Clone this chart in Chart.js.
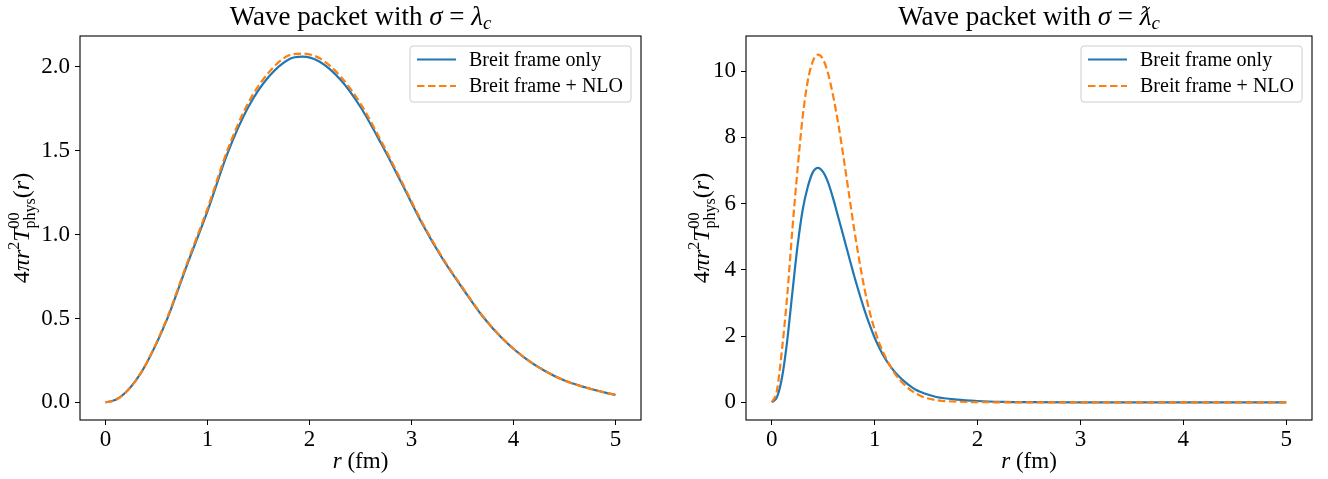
<!DOCTYPE html>
<html>
<head>
<meta charset="utf-8">
<script src="https://cdn.jsdelivr.net/npm/chart.js@4.4.0/dist/chart.umd.min.js"></script>
<style>
    html, body { margin: 0; padding: 0; background: #fff; }
    #wrap { position: relative; width: 1328px; height: 479px; }
    canvas { position: absolute; top: 0; }
</style>
</head>
<body>
<div id="wrap">
    <canvas id="leftChart" width="664" height="479" style="left:0"></canvas>
    <canvas id="rightChart" width="664" height="479" style="left:664px"></canvas>
</div>
<script>
// values
var seriesLabels = ['Breit frame only', 'Breit frame + NLO'];
var xTicks = [0, 1, 2, 3, 4, 5];

// left panel (sigma = lambda_c)
var rLeft = [0, 0.1, 0.2, 0.3, 0.4, 0.6, 0.8, 1, 1.2, 1.4, 1.6, 1.8, 1.93, 2.1, 2.3, 2.5, 2.7, 2.9, 3.1, 3.3, 3.5, 3.7, 3.9, 4.1, 4.3, 4.5, 4.7, 4.9, 5];
var breitLeft = [0, 0.015, 0.06, 0.132, 0.23, 0.49, 0.82, 1.14, 1.49, 1.76, 1.94, 2.045, 2.06, 2.03, 1.925, 1.76, 1.545, 1.31, 1.07, 0.86, 0.68, 0.51, 0.375, 0.27, 0.19, 0.13, 0.09, 0.058, 0.045];
var nloLeft = [0, 0.015, 0.06, 0.133, 0.232, 0.497, 0.83, 1.155, 1.51, 1.785, 1.965, 2.068, 2.078, 2.05, 1.945, 1.78, 1.56, 1.32, 1.078, 0.866, 0.684, 0.513, 0.377, 0.27, 0.19, 0.13, 0.09, 0.058, 0.045];
var yTicksLeft = [0, 0.5, 1, 1.5, 2];

// right panel (sigma = reduced lambda_c)
var rRight = [0, 0.05, 0.1, 0.15, 0.2, 0.25, 0.3, 0.35, 0.4, 0.45, 0.5, 0.55, 0.6, 0.65, 0.7, 0.75, 0.8, 0.85, 0.9, 0.95,
    1, 1.05, 1.1, 1.15, 1.2, 1.25, 1.3, 1.35, 1.4, 1.45, 1.5, 1.6, 1.8, 2, 2.25, 2.5, 3, 3.5, 4, 4.5, 5];
var breitRight = [0, 0.15, 0.75, 1.85, 3.3, 4.7, 5.8, 6.5, 6.95, 7.08, 6.95, 6.62, 6.12, 5.55, 4.98, 4.4, 3.83, 3.3, 2.8, 2.35,
    1.95, 1.62, 1.33, 1.1, 0.9, 0.74, 0.6, 0.48, 0.38, 0.31, 0.25, 0.16, 0.08, 0.04, 0.015, 0.005, 0, 0, 0, 0, 0];
var nloRight = [0, 0.35, 1.6, 3.2, 5.2, 7.0, 8.6, 9.7, 10.3, 10.5, 10.35, 9.9, 9.2, 8.35, 7.35, 6.3, 5.25, 4.3, 3.45, 2.75,
    2.2, 1.75, 1.4, 1.1, 0.85, 0.66, 0.5, 0.37, 0.27, 0.19, 0.13, 0.065, 0.02, 0.005, 0, 0, 0, 0, 0, 0, 0];
var yTicksRight = [0, 2, 4, 6, 8, 10];

var FAMILY = '"Liberation Serif", "DejaVu Serif", serif';
function f(size, italic) {
    return (italic ? 'italic ' : '') + size + 'px ' + FAMILY;
}

Chart.defaults.color = '#000';
Chart.defaults.font.family = FAMILY;

function toPoints(xs, ys) {
    return xs.map(function (x, i) { return { x: x, y: ys[i] }; });
}

// draws a row of text pieces (mixed italic / sub / superscript) centred on x
function drawRuns(ctx, runs, x, y) {
    var total = 0;
    runs.forEach(function (r) {
        ctx.font = r.font;
        r.w = ctx.measureText(r.t).width;
        if (!r.noAdvance) total += r.w;
    });
    var cx = x - total / 2;
    ctx.textAlign = 'left';
    ctx.textBaseline = 'alphabetic';
    runs.forEach(function (r) {
        ctx.font = r.font;
        ctx.fillText(r.t, cx, y + (r.dy || 0));
        if (!r.noAdvance) cx += r.w;
    });
}

var yLabelRuns = [
    { t: '4', font: f(24) }, { t: 'π', font: f(24, true) }, { t: 'r', font: f(24, true) },
    { t: '2', font: f(16), dy: -10 }, { t: 'T', font: f(24, true) },
    { t: '00', font: f(16), dy: -10, noAdvance: true }, { t: 'phys', font: f(16), dy: 6 },
    { t: '(', font: f(24) }, { t: 'r', font: f(24, true) }, { t: ')', font: f(24) }
];
var xLabelRuns = [{ t: 'r', font: f(23, true) }, { t: ' (fm)', font: f(23) }];

var decorPlugin = {
    id: 'decor',
    afterDraw: function (chart, args, opts) {
        var ctx = chart.ctx;
        var a = chart.chartArea;
        ctx.save();
        ctx.fillStyle = '#000';

        // frame
        ctx.strokeStyle = '#000';
        ctx.lineWidth = 1.1;
        ctx.strokeRect(a.left, a.top, a.right - a.left, a.bottom - a.top);

        // title
        drawRuns(ctx, opts.titleRuns, (a.left + a.right) / 2, 25);

        // axis labels
        drawRuns(ctx, xLabelRuns, (a.left + a.right) / 2, 468);
        ctx.save();
        ctx.translate(opts.yLabelX, (a.top + a.bottom) / 2);
        ctx.rotate(-Math.PI / 2);
        drawRuns(ctx, yLabelRuns, 0, 0);
        ctx.restore();

        // legend box, matplotlib style
        var right = a.right - 10, left = right - 221, top = a.top + 10, h = 56;
        ctx.beginPath();
        ctx.roundRect(left, top, right - left, h, 3);
        ctx.fillStyle = 'rgba(255,255,255,0.8)';
        ctx.fill();
        ctx.strokeStyle = '#cccccc';
        ctx.lineWidth = 1;
        ctx.stroke();
        chart.data.datasets.forEach(function (ds, i) {
            var ly = top + 13.5 + i * 26.5;
            ctx.beginPath();
            ctx.setLineDash(ds.borderDash || []);
            ctx.strokeStyle = ds.borderColor;
            ctx.lineWidth = ds.borderWidth;
            ctx.moveTo(left + 7, ly);
            ctx.lineTo(left + 46, ly);
            ctx.stroke();
            ctx.setLineDash([]);
            ctx.fillStyle = '#000';
            ctx.font = f(20);
            ctx.textAlign = 'left';
            ctx.textBaseline = 'middle';
            ctx.fillText(ds.label, left + 59, ly + 1);
        });
        ctx.restore();
    }
};

function makeChart(id, xs, blue, orange, yTicks, yMin, yMax, yWidth, padRight, titleRuns, yLabelX, fmt) {
    var ctx = document.getElementById(id).getContext('2d');
    return new Chart(ctx, {
        type: 'line',
        data: {
            datasets: [{
                label: seriesLabels[0],
                data: toPoints(xs, blue),
                borderColor: '#1f77b4',
                borderWidth: 2.2,
                pointRadius: 0,
                cubicInterpolationMode: 'monotone',
                fill: false,
                order: 1
            }, {
                label: seriesLabels[1],
                data: toPoints(xs, orange),
                borderColor: '#ff7f0e',
                borderWidth: 2.2,
                borderDash: [7.5, 3.5],
                pointRadius: 0,
                cubicInterpolationMode: 'monotone',
                fill: false,
                order: 0
            }]
        },
        options: {
            responsive: false,
            animation: false,
            devicePixelRatio: 1,
            layout: { padding: { left: 0, right: padRight, top: 36, bottom: 0 } },
            plugins: {
                legend: { display: false },
                tooltip: { enabled: false },
                decor: { titleRuns: titleRuns, yLabelX: yLabelX }
            },
            scales: {
                x: {
                    type: 'linear',
                    min: -0.25,
                    max: 5.25,
                    afterBuildTicks: function (s) { s.ticks = xTicks.map(function (v) { return { value: v }; }); },
                    afterFit: function (s) { s.height = 59; },
                    grid: { drawOnChartArea: false, drawTicks: true, tickLength: 5, color: '#000' },
                    border: { display: false },
                    ticks: { font: { size: 23 }, padding: 1, maxRotation: 0, autoSkip: false }
                },
                y: {
                    type: 'linear',
                    min: yMin,
                    max: yMax,
                    afterBuildTicks: function (s) { s.ticks = yTicks.map(function (v) { return { value: v }; }); },
                    afterFit: function (s) { s.width = yWidth; },
                    grid: { drawOnChartArea: false, drawTicks: true, tickLength: 5, color: '#000' },
                    border: { display: false },
                    ticks: { font: { size: 23 }, padding: 5, callback: fmt }
                }
            }
        },
        plugins: [decorPlugin]
    });
}

var leftTitle = [
    { t: 'Wave packet with ', font: f(27) }, { t: 'σ', font: f(27, true) }, { t: ' = ', font: f(27) },
    { t: 'λ', font: f(27, true) }, { t: 'c', font: f(19, true), dy: 4 }
];
var rightTitle = [
    { t: 'Wave packet with ', font: f(27) }, { t: 'σ', font: f(27, true) }, { t: ' = ', font: f(27) },
    { t: 'ƛ', font: f(27, true) }, { t: 'c', font: f(19, true), dy: 4 }
];

makeChart('leftChart', rLeft, breitLeft, nloLeft, yTicksLeft, -0.105, 2.183, 80, 23, leftTitle, 29,
    function (v) { return v.toFixed(1); });
makeChart('rightChart', rRight, breitRight, nloRight, yTicksRight, -0.534, 11.06, 82, 16, rightTitle, 45,
    function (v) { return v.toFixed(0); });
</script>
</body>
</html>
